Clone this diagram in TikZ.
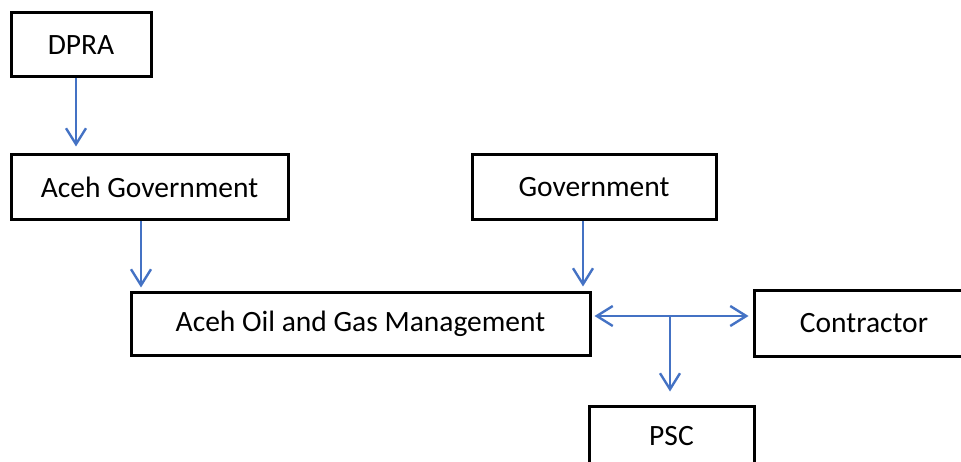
\documentclass[tikz,border=0pt]{standalone}
\usepackage{fontspec}
\setmainfont{Carlito}
\usetikzlibrary{arrows.meta}
\definecolor{arrblue}{RGB}{68,114,196}
\tikzset{
  box/.style={draw=black, line width=3pt, inner sep=0pt, font=\fontsize{29.5}{35}\selectfont},
  arr/.style={draw=arrblue, line width=2.4pt, -{Straight Barb[length=16pt,width=20pt]}},
  darr/.style={draw=arrblue, line width=2.4pt, {Straight Barb[length=16pt,width=20pt]}-{Straight Barb[length=16pt,width=20pt]}}
}
\begin{document}
\begin{tikzpicture}[x=1pt,y=-1pt]
\useasboundingbox (0,0) rectangle (961,462);
\clip (0,0) rectangle (961,462);
\node[box, minimum width=140pt, minimum height=64pt] (dpra) at (81,45) {DPRA};
\node[box, minimum width=277pt, minimum height=65pt] (acehgov) at (149.5,187.5) {Aceh Government};
\node[box, minimum width=244pt, minimum height=65pt] (gov) at (594,187.5) {Government};
\node[box, minimum width=459pt, minimum height=62pt] (aog) at (360.5,324) {Aceh Oil and Gas Management};
\node[box, minimum width=220pt, minimum height=65pt] (contr) at (864,323.5) {Contractor};
\node[box, minimum width=165pt, minimum height=60pt] (psc) at (671.5,436) {PSC};
\draw[arr, shorten >=7pt] ([xshift=-5pt]dpra.south) -- ([xshift=-5pt]dpra.south |- acehgov.north);
\draw[arr, shorten >=4pt] ([xshift=-8.5pt]acehgov.south) -- ([xshift=-8.5pt]acehgov.south |- aog.north);
\draw[arr, shorten >=5pt] ([xshift=-11pt]gov.south) -- ([xshift=-11pt]gov.south |- aog.north);
\draw[darr, shorten <=3pt, shorten >=4pt] ([yshift=8pt]aog.east) -- ([yshift=8pt]aog.east -| contr.west);
\coordinate (j) at (670,316);
\draw[arr, shorten >=13pt] (j) -- (j |- psc.north);
\end{tikzpicture}
\end{document}
